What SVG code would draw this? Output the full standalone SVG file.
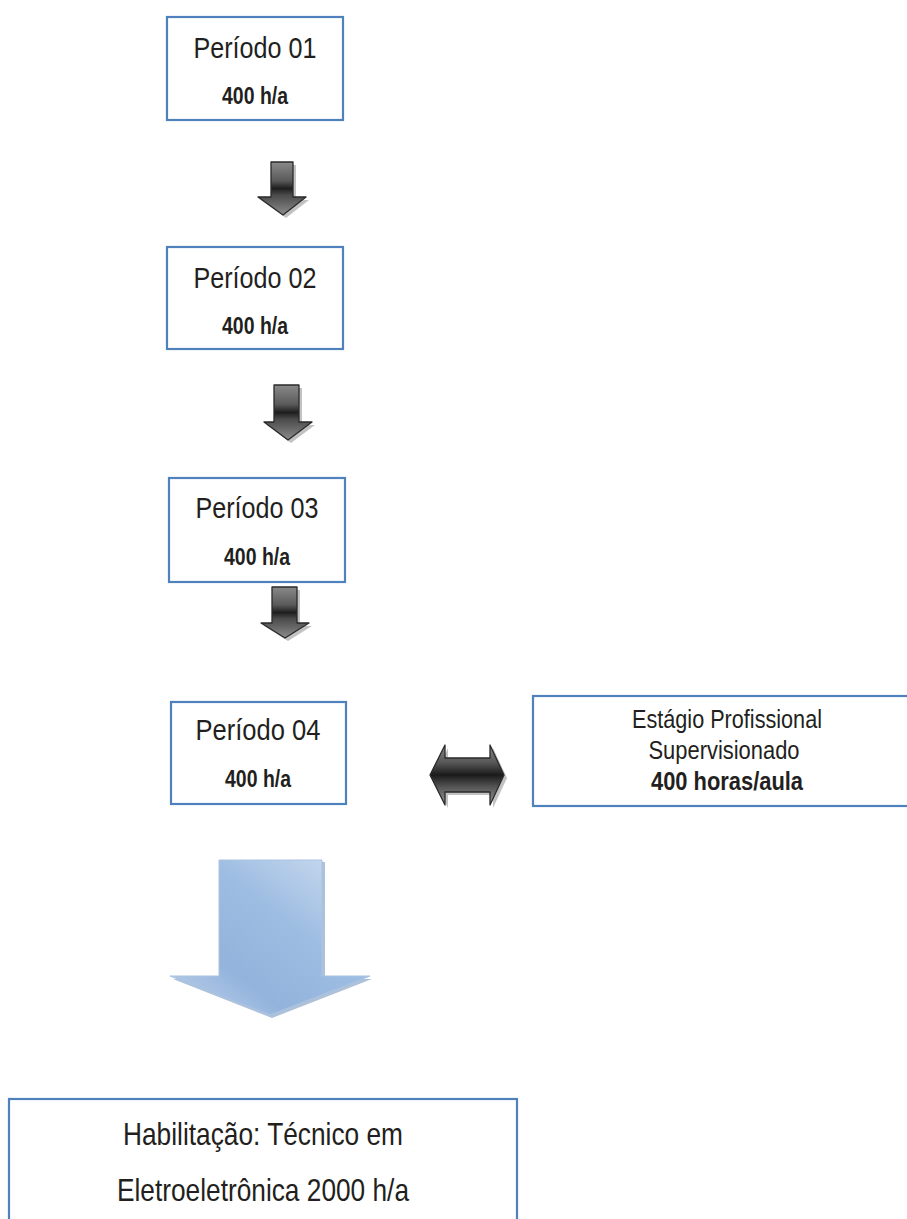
<svg xmlns="http://www.w3.org/2000/svg" width="907" height="1219" viewBox="0 0 907 1219">
<defs>
<linearGradient id="dk" x1="0" y1="0" x2="0" y2="1">
<stop offset="0" stop-color="#8a8a8a"/>
<stop offset="0.35" stop-color="#5a5a5a"/>
<stop offset="0.5" stop-color="#1e1e1e"/>
<stop offset="0.62" stop-color="#4a4a4a"/>
<stop offset="1" stop-color="#8c8c8c"/>
</linearGradient>
<linearGradient id="dkh" x1="0" y1="0" x2="0" y2="1">
<stop offset="0" stop-color="#8a8a8a"/>
<stop offset="0.3" stop-color="#555"/>
<stop offset="0.5" stop-color="#1a1a1a"/>
<stop offset="0.7" stop-color="#555"/>
<stop offset="1" stop-color="#999"/>
</linearGradient>
<linearGradient id="bl" x1="0" y1="1" x2="1" y2="0">
<stop offset="0" stop-color="#c3d5ec"/>
<stop offset="0.3" stop-color="#93b3dc"/>
<stop offset="0.6" stop-color="#9ebde2"/>
<stop offset="1" stop-color="#d2e0f1"/>
</linearGradient>
</defs>
<style>
.box{fill:#fff;stroke:#4f81bd;stroke-width:2.2}
.t{font-family:"Liberation Sans",Arial,sans-serif;fill:#231f20;text-anchor:middle}
.b{font-weight:bold}
.arr{fill:url(#dk);stroke:#2a2a2a;stroke-width:1.3;stroke-linejoin:round}
.sh{fill:#9a9a9a;opacity:0.6}
</style>

<g id="periodo01">
<rect class="box" x="167" y="17" width="176" height="103"/>
<text class="t" x="255" y="58" font-size="30" textLength="123" lengthAdjust="spacingAndGlyphs">Período 01</text>
<text class="t b" x="255" y="104" font-size="23" textLength="66" lengthAdjust="spacingAndGlyphs">400 h/a</text>
</g>
<g id="periodo02">
<rect class="box" x="167" y="247" width="176" height="102"/>
<text class="t" x="255" y="288" font-size="30" textLength="123" lengthAdjust="spacingAndGlyphs">Período 02</text>
<text class="t b" x="255" y="334" font-size="23" textLength="66" lengthAdjust="spacingAndGlyphs">400 h/a</text>
</g>
<g id="periodo03">
<rect class="box" x="169" y="478" width="176" height="104"/>
<text class="t" x="257" y="518" font-size="30" textLength="123" lengthAdjust="spacingAndGlyphs">Período 03</text>
<text class="t b" x="257" y="565" font-size="23" textLength="66" lengthAdjust="spacingAndGlyphs">400 h/a</text>
</g>
<g id="periodo04">
<rect class="box" x="171" y="702" width="175" height="102"/>
<text class="t" x="258" y="740" font-size="30" textLength="125" lengthAdjust="spacingAndGlyphs">Período 04</text>
<text class="t b" x="258" y="787" font-size="23" textLength="66" lengthAdjust="spacingAndGlyphs">400 h/a</text>
</g>
<g id="estagio">
<rect class="box" x="533" y="696" width="390" height="110"/>
<text class="t" x="727" y="728" font-size="25" textLength="190" lengthAdjust="spacingAndGlyphs">Estágio Profissional</text>
<text class="t" x="724" y="759" font-size="25" textLength="151" lengthAdjust="spacingAndGlyphs">Supervisionado</text>
<text class="t b" x="727" y="790" font-size="25" textLength="152" lengthAdjust="spacingAndGlyphs">400 horas/aula</text>
</g>
<g id="habilitacao">
<rect class="box" x="9" y="1099" width="508" height="140"/>
<text class="t" x="263" y="1145" font-size="32" textLength="280" lengthAdjust="spacingAndGlyphs">Habilitação: Técnico em</text>
<text class="t" x="263" y="1201" font-size="32" textLength="292" lengthAdjust="spacingAndGlyphs">Eletroeletrônica 2000 h/a</text>
</g>

<g id="connectors">
<path class="sh" d="M274,165 H296 V200 H309 L286,218 L261,200 H274 Z"/>
<path class="arr" d="M271,162 H293 V197 H306 L283,215 L258,197 H271 Z"/>
<path class="sh" d="M277,388 H302 V425 H315 L291,443 L267,425 H277 Z"/>
<path class="arr" d="M274,385 H299 V422 H312 L288,440 L264,422 H274 Z"/>
<path class="sh" d="M275,590 H300 V626 H312 L288,641 L264,626 H275 Z"/>
<path class="arr" d="M272,587 H297 V623 H309 L285,638 L261,623 H272 Z"/>
<path class="sh" d="M433,778 L448,748 V761 H493 V748 L507,778 L493,808 V795 H448 V808 Z"/>
<path class="arr" style="fill:url(#dkh)" d="M430,775 L445,745 V758 H490 V745 L504,775 L490,805 V792 H445 V805 Z"/>
<path d="M222,862 H325 V979 H372 L272,1018 L173,979 H222 Z" fill="#8aa6c8" opacity="0.7"/>
<path d="M219,860 H322 V976 H370 L270,1015 L170,976 H219 Z" fill="url(#bl)" stroke="#a9c3e3" stroke-width="1"/>
</g>
</svg>
